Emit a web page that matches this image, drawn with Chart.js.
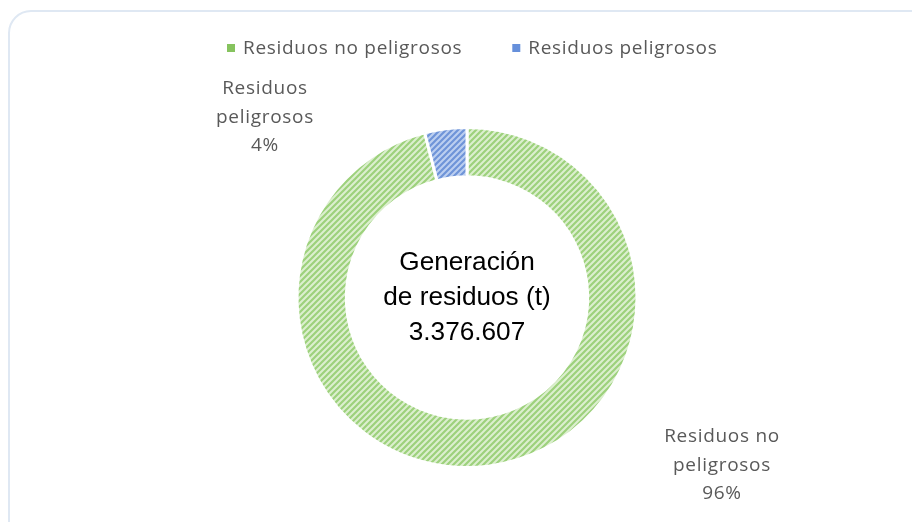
<!DOCTYPE html>
<html><head><meta charset="utf-8">
<script src="https://cdn.jsdelivr.net/npm/chart.js@4.4.1/dist/chart.umd.min.js"></script>
<style>html,body{margin:0;padding:0;background:#fff}#wrap{width:912px;height:522px;position:relative}</style>
</head><body><div id="wrap"><canvas id="c" width="912" height="522"></canvas></div>
<script>
const categories = ['Residuos no peligrosos', 'Residuos peligrosos'];
const labelLines = [['Residuos no', 'peligrosos'], ['Residuos', 'peligrosos']];
const shares = [96, 4];
const centerLines = ['Generación', 'de residuos (t)', '3.376.607'];
const darkColors = ['#9dd17c', '#6f94d8'];
const lightColors = ['#dcefcf', '#bccff0'];
const legendColors = ['#86c35e', '#6690db'];

function makePattern(dark, light) {
  const s = 6;
  const cv = document.createElement('canvas');
  cv.width = s; cv.height = s;
  const g = cv.getContext('2d');
  g.fillStyle = light; g.fillRect(0, 0, s, s);
  g.strokeStyle = dark; g.lineWidth = 2.2;
  g.beginPath();
  g.moveTo(-1, s + 1); g.lineTo(s + 1, -1);
  g.moveTo(-1 - s, s + 1); g.lineTo(1, -1);
  g.moveTo(s - 1, s + 1); g.lineTo(2 * s + 1, -1);
  g.stroke();
  return g.createPattern(cv, 'repeat');
}
const ctx0 = document.getElementById('c').getContext('2d');
const patterns = darkColors.map((d, i) => makePattern(d, lightColors[i]));

const labelFont = '19px "Open Sans", Lato, sans-serif';
const labelColor = '#595959';
const labelOffsets = [[255, 168], [-202, -180]];

const extras = {
  id: 'extras',
  beforeDraw(chart) {
    const c = chart.ctx;
    c.save();
    c.strokeStyle = '#dfe8f3'; c.lineWidth = 2;
    c.beginPath();
    c.roundRect(9, 11, 940, 560, 22);
    c.stroke();
    c.restore();
  },
  afterDraw(chart) {
    const c = chart.ctx;
    const meta = chart.getDatasetMeta(0);
    const arc0 = meta.data[0];
    const cx = arc0.x, cy = arc0.y;
    c.save();
    c.letterSpacing = '0.7px';
    // legend
    c.font = labelFont; c.textBaseline = 'middle'; c.textAlign = 'left';
    let x = 227;
    categories.forEach((name, i) => {
      c.fillStyle = legendColors[i];
      c.fillRect(x, 44, 8, 8);
      c.fillStyle = labelColor;
      c.fillText(name, x + 16, 49);
      x += 16 + c.measureText(name).width + 50;
    });
    // data labels
    c.textAlign = 'center';
    meta.data.forEach((arc, i) => {
      const lines = labelLines[i].concat([shares[i] + '%']);
      const lx = cx + labelOffsets[i][0];
      const ly = cy + labelOffsets[i][1];
      lines.forEach((t, k) => {
        c.fillText(t, lx, ly + (k - 1) * 28.5);
      });
    });
    // center text
    c.letterSpacing = '0px';
    c.fillStyle = '#000';
    c.font = '26.2px "Liberation Sans", Arial, sans-serif';
    centerLines.forEach((t, k) => c.fillText(t, cx, cy + (k - 1) * 35));
    c.restore();
  }
};

new Chart(ctx0, {
  type: 'doughnut',
  data: {
    labels: categories,
    datasets: [{
      data: shares,
      backgroundColor: patterns,
      borderColor: '#ffffff',
      borderWidth: 3,
      hoverOffset: 0
    }]
  },
  options: {
    responsive: false,
    animation: false,
    cutout: '71%',
    layout: { padding: { left: 295, right: 273, top: 126, bottom: 53 } },
    plugins: { legend: { display: false }, tooltip: { enabled: false } }
  },
  plugins: [extras]
});
</script>
</body></html>
